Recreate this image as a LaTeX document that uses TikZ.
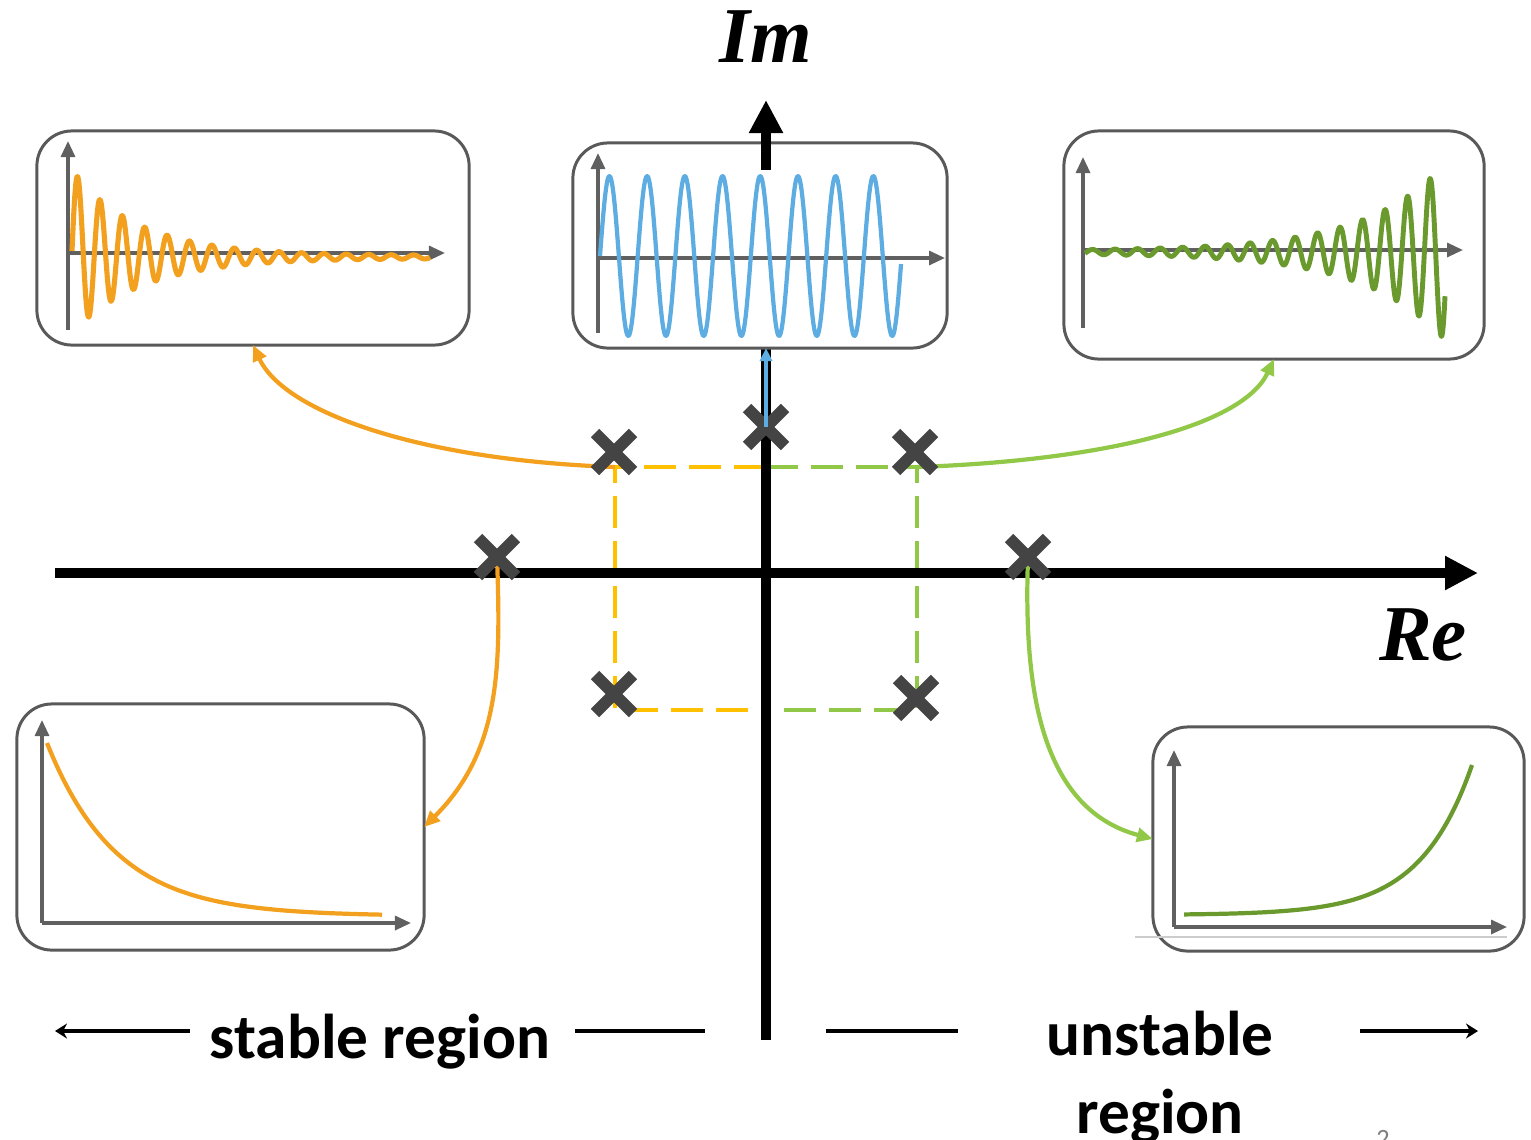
\documentclass[tikz,border=0pt]{standalone}
\usepackage{fontspec}
\setmainfont{Carlito}
\newfontfamily\axfont{Liberation Serif}
\usetikzlibrary{arrows.meta}
\definecolor{orng}{RGB}{243,160,30}
\definecolor{yell}{RGB}{255,192,0}
\definecolor{lgrn}{RGB}{146,200,72}
\definecolor{dgrn}{RGB}{106,154,46}
\definecolor{blu}{RGB}{93,173,226}
\definecolor{framegray}{RGB}{89,89,89}
\definecolor{axgray}{RGB}{96,96,96}
\definecolor{polegray}{RGB}{68,68,68}

\begin{document}
\begin{tikzpicture}[x=0.01cm, y=0.01cm,
  inset/.style={draw=framegray, fill=white, line width=0.85pt, rounded corners=0.35cm, outer sep=0pt, inner sep=0pt},
  plotax/.style={draw=axgray, line width=0.9pt, -{Triangle[length=0.16cm,width=0.14cm]}},
  sig/.style={line width=1.2pt, line join=round},
  link/.style={line width=1.2pt, -{Triangle[length=0.16cm,width=0.14cm]}},
  xmark/.style={draw=polegray, line width=3.4pt},
  bigax/.style={line width=2.85pt, -{Triangle[length=0.33cm,width=0.32cm]}},
  dbox/.style={dash pattern=on 0.32cm off 0.13cm, line width=1.1pt},
  rule/.style={line width=1.4pt},
  lbl/.style={font=\fontsize{18}{22}\selectfont\bfseries, anchor=base},
  axl/.style={font=\fontsize{22.5}{27}\selectfont\axfont\bfseries\itshape, anchor=base}]
\useasboundingbox (0,0) rectangle (1531,-1139);

\foreach \n/\x/\y in {d1/615/467, d2/766/467, d3/917/467, d4/615/710, d5/766/710, d6/917/710,
  p1/614/452, p2/766/427, p3/915/452, p4/497/557, p5/1028/557, p6/614/694, p7/916/698}
  \coordinate (\n) at (\x,-\y);

\draw[dbox, yell] (d2) -- (d1) -- (d4) -- (d5);
\draw[dbox, lgrn] (d2) -- (d3) -- (d6) -- (d5);
\draw[bigax] (55,-573) -- (1478,-573);
\draw[line width=2.85pt] (766,-1040) -- (766,-338);

\node[inset, minimum width=4.32cm, minimum height=2.14cm] (tl) at (253,-238) {};
\node[inset, minimum width=3.74cm, minimum height=2.05cm] (tc) at (760,-245.5) {};
\node[inset, minimum width=4.20cm, minimum height=2.28cm] (tr) at (1274,-245) {};
\node[inset, minimum width=4.07cm, minimum height=2.46cm] (bl) at (220.5,-827) {};
\node[inset, minimum width=3.71cm, minimum height=2.24cm] (br) at (1338.5,-839) {};
\draw[gray!40, line width=0.3pt] (1135,-937) -- (1507,-937);

\draw[plotax] (68,-330) -- (68,-141);
\draw[plotax] (68,-253) -- (445,-253);
\draw[sig, orng, line width=1.45pt] plot[domain=72:430, samples=600] (\x, {-257 + 6*exp(-(\x-72)/40) + (80*exp(-(\x-72)/68)+1.5)*sin((\x-72)*16.07)});
\draw[plotax] (598,-333) -- (598,-153);
\draw[plotax] (598,-258) -- (945,-258);
\draw[sig, blu] plot[domain=600:901, samples=400] (\x, {-256 + 80*sin((\x-600)*9.549)});
\draw[plotax] (1083,-328) -- (1083,-157);
\draw[plotax] (1083,-250) -- (1463,-250);
\draw[sig, dgrn, line width=1.4pt] plot[domain=1085:1445, samples=600] (\x, {-252 + (72*exp(0.0125*(\x-1430))+1.5)*cos((\x-1430)*16)});
\draw[plotax] (42,-923) -- (42,-720);
\draw[plotax] (42,-923) -- (411,-923);
\draw[sig, orng] plot[domain=47:382, samples=150] (\x, {-916 + 173*exp(-(\x-47)/69)});
\draw[plotax] (1174,-927) -- (1174,-750);
\draw[plotax] (1174,-927) -- (1507,-927);
\draw[sig, dgrn] plot[domain=1184:1472, samples=150] (\x, {-915 + 150*exp((\x-1472)/52)});

\draw[bigax] (766,-170) -- (766,-100);

\draw[link, orng] (d1) to[out=178, in=-65, out looseness=1.3, in looseness=0.5] (tl.south);
\draw[link, lgrn] (d3) to[out=2, in=-115, out looseness=1.3, in looseness=0.5] (tr.south);
\draw[link, orng] (p4) to[out=-88, in=45] (bl.east);
\draw[link, lgrn] (p5) to[out=-92, in=165] (br.west);

\foreach \n in {p1,p2,p3,p4,p5,p6,p7}
  \draw[xmark] (\n) +(-19,-19) -- +(19,19) (\n) +(-19,19) -- +(19,-19);

\draw[link, blu, -{Triangle[length=0.13cm,width=0.12cm]}] (p2) -- (p2 |- tc.south);

\node[axl] (im) at (766,-62) {Im};
\node[axl] (re) at (1423,-660) {Re};
\node[lbl] (sr) at (380,-1058) {stable region};
\node[lbl] (ur1) at (1160,-1055) {unstable};
\node[lbl] (ur2) at (1160,-1133) {region};
\node[anchor=base, text=gray, font=\fontsize{7.5}{9}\selectfont] (pg) at (1383,-1147) {2};

\draw[rule, -{Stealth[length=0.12cm,width=0.15cm]}] (190,-1031) -- (55,-1031);
\draw[rule] (575,-1031) -- (705,-1031);
\draw[rule] (826,-1031) -- (958,-1031);
\draw[rule, -{Stealth[length=0.12cm,width=0.15cm]}] (1360,-1031) -- (1478,-1031);
\end{tikzpicture}
\end{document}
